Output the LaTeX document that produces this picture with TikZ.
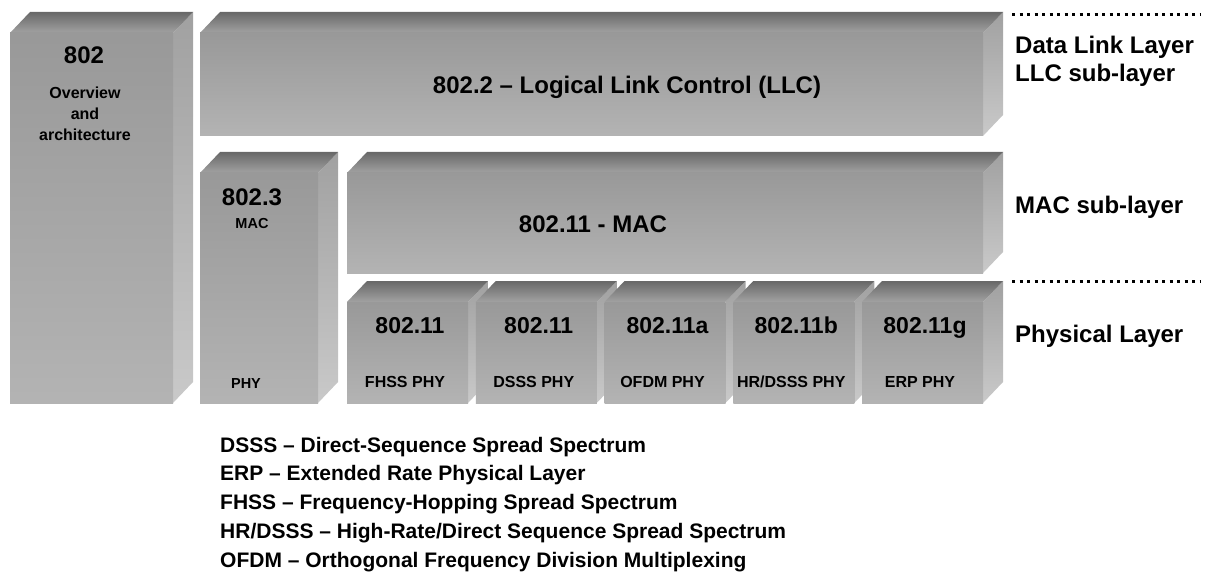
\documentclass[tikz,border=0pt]{standalone}
\usepackage{fontspec}
\setmainfont{Liberation Sans}
\usepackage{tikz}
\usetikzlibrary{positioning}

\definecolor{boxfront}{HTML}{A6A6A6}
\definecolor{boxtop}{HTML}{7A7A7A}
\definecolor{boxside}{HTML}{C9C9C9}

\tikzset{
  bigtxt/.style={inner sep=0pt, anchor=base, font=\fontsize{24}{28}\selectfont\bfseries},
  numtxt/.style={inner sep=0pt, anchor=base, font=\fontsize{23}{27}\selectfont\bfseries},
  midtxt/.style={inner sep=0pt, anchor=base, font=\fontsize{16}{21}\selectfont\bfseries},
  smalltxt/.style={inner sep=0pt, anchor=base, font=\fontsize{14.5}{18}\selectfont\bfseries},
  sidetxt/.style={inner sep=0pt, anchor=base west, font=\fontsize{24}{28}\selectfont\bfseries},
  keytxt/.style={inner sep=0pt, anchor=base west, font=\fontsize{21}{25}\selectfont\bfseries},
  dotline/.style={line width=3pt, dash pattern=on 3pt off 4.5pt}
}

% front face: left x, top y, width, height
\newcommand{\layerbox}[4]{%
  \shade[top color=boxside!80!black, bottom color=boxside] (#1+#3,#2) -- ++(20,-21) -- ++(0,#4) -- ++(-20,21) -- cycle;
  \shade[top color=boxtop!85!black, bottom color=boxtop!70!white] (#1,#2) -- ++(20,-21) -- ++(#3,0) -- ++(-20,21) -- cycle;
  \shade[top color=boxfront!92!black, bottom color=boxfront!85!white] (#1,#2) rectangle ++(#3,#4);
}

\begin{document}
\begin{tikzpicture}[x=1pt, y=-1pt]
\useasboundingbox (0,0) rectangle (1213,575);

\layerbox{10}{33}{163}{370}
\layerbox{200}{33}{783}{103}
\layerbox{200}{173}{118}{230}
\layerbox{347}{173}{636}{100}

\node[bigtxt] (n802) at (84,64) {802};
\node[midtxt, anchor=center, align=center] (arch) at (85,114) {Overview\\and\\architecture};
\node[bigtxt] (llc) at (627,94) {802.2 -- Logical Link Control (LLC)};
\node[bigtxt] (n8023) at (252,205) {802.3};
\node[smalltxt] (mac3) at (252,228) {MAC};
\node[smalltxt] (phy3) at (246,388) {PHY};
\node[bigtxt] (mac11) at (593,232) {802.11 - MAC};

\foreach \i/\num/\phy [evaluate=\i as \bx using 347+128.75*\i] in
  {0/802.11/FHSS PHY, 1/802.11/DSSS PHY, 2/802.11a/OFDM PHY, 3/802.11b/{HR/DSSS PHY}, 4/802.11g/ERP PHY} {
  \layerbox{\bx}{302}{121}{101}
  \node[numtxt] (num\i) at (\bx+63,333) {\num};
  \node[midtxt] (phy\i) at (\bx+58,387) {\phy};
}

\coordinate (dotA1) at (1012,15);
\coordinate (dotA2) at (1200,15);
\coordinate (dotB1) at (1012,281);
\coordinate (dotB2) at (1200,281);
\draw[dotline] (dotA1) -- (dotA2);
\draw[dotline] (dotB1) -- (dotB2);

\node[sidetxt] (dll) at (1015,54) {Data Link Layer};
\node[sidetxt] (llcsub) at (1015,82) {LLC sub-layer};
\node[sidetxt] (macsub) at (1015,213) {MAC sub-layer};
\node[sidetxt] (physub) at (1015,342) {Physical Layer};

\foreach \j/\key in {0/DSSS -- Direct-Sequence Spread Spectrum,
  1/ERP -- Extended Rate Physical Layer,
  2/FHSS -- Frequency-Hopping Spread Spectrum,
  3/{HR/DSSS -- High-Rate/Direct Sequence Spread Spectrum},
  4/OFDM -- Orthogonal Frequency Division Multiplexing}
  \node[keytxt] (key\j) at (220,452+28.75*\j) {\key};
\end{tikzpicture}
\end{document}
